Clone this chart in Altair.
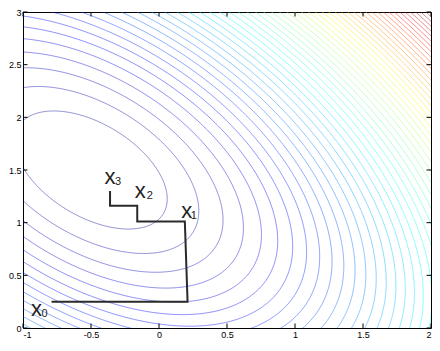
import numpy as np
import pandas as pd
import altair as alt

alt.data_transformers.disable_max_rows()

# ---- values ----
x_range = [-1, 2]
y_range = [0, 3]
x_ticks = [-1, -0.5, 0, 0.5, 1, 1.5, 2]
y_ticks = [0, 0.5, 1, 1.5, 2, 2.5, 3]

# quadratic bowl f = dx^2 + 2*c*dx*dy + dy^2 (centre and coupling read from the ellipses)
center_x = -0.5
center_y = 1.5
coupling = 0.49
n_levels = 50

# coordinate-descent path
path_x = [-0.79, 0.21, 0.19, -0.16, -0.16, -0.36, -0.36]
path_y = [0.25, 0.25, 1.01, 1.01, 1.16, 1.16, 1.30]
label_index = [0, 2, 4, 6]
label_sub = ["0", "1", "2", "3"]

jet_stops = [0, 0.125, 0.375, 0.625, 0.875, 1]
jet_colors = ["#000080", "#0000ff", "#00ffff", "#ffff00", "#ff0000", "#800000"]

W, H = 408, 316

# ---- contour lines (ellipses of the quadratic) ----
def f(x, y):
    dx, dy = x - center_x, y - center_y
    return dx * dx + 2 * coupling * dx * dy + dy * dy

zmax = f(x_range[1], y_range[1])
zmin = 0.0
levels = [zmin + (zmax - zmin) * k / (n_levels + 1) for k in range(1, n_levels + 1)]

t = np.linspace(0, 2 * np.pi, 1400)
rows = []
seg = 0
m = 0.06
for L in levels:
    a1 = np.sqrt(L / (1 + coupling))
    a2 = np.sqrt(L / (1 - coupling))
    xs = center_x + (a1 * np.cos(t) + a2 * np.sin(t)) / np.sqrt(2)
    ys = center_y + (a1 * np.cos(t) - a2 * np.sin(t)) / np.sqrt(2)
    inside = (xs > x_range[0] - m) & (xs < x_range[1] + m) & (ys > y_range[0] - m) & (ys < y_range[1] + m)
    prev = False
    order = 0
    for xi, yi, ins in zip(xs, ys, inside):
        if ins:
            if not prev:
                seg += 1
            rows.append((round(float(xi), 4), round(float(yi), 4), L, seg, order))
            order += 1
        prev = ins
contours = pd.DataFrame(rows, columns=["x", "y", "z", "seg", "o"])

xscale = alt.Scale(domain=x_range, nice=False, zero=False)
yscale = alt.Scale(domain=y_range, nice=False, zero=False)
label_expr = "'' + datum.value"

lines = alt.Chart(contours).mark_line(clip=True, strokeWidth=0.5, strokeOpacity=0.9).encode(
    x=alt.X("x:Q", scale=xscale, axis=alt.Axis(values=x_ticks, labelExpr=label_expr, title=None, labelPadding=2)),
    y=alt.Y("y:Q", scale=yscale, axis=alt.Axis(values=y_ticks, labelExpr=label_expr, title=None, labelPadding=2)),
    color=alt.Color("z:Q", scale=alt.Scale(domain=[zmin + s * (zmax - zmin) for s in jet_stops],
                                           range=jet_colors, interpolate="rgb"), legend=None),
    detail="seg:N",
    order="o:Q",
)

path_df = pd.DataFrame({"x": path_x, "y": path_y, "i": list(range(len(path_x)))})
path = alt.Chart(path_df).mark_line(color="#2a2a2a", strokeWidth=2).encode(
    x=alt.X("x:Q", scale=xscale), y=alt.Y("y:Q", scale=yscale), order="i:Q"
)

lab_df = pd.DataFrame({
    "x": [path_x[i] for i in label_index],
    "y": [path_y[i] for i in label_index],
    "sub": label_sub,
})
# (dx, dy) offsets of the letter and of the subscript for each label
offsets = {
    "0": ((-15, 14), (-7, 15)),
    "1": ((2, -4), (9, -3)),
    "2": ((3, -8), (12.5, -7)),
    "3": ((0, -7), (8, -6)),
}
texts = []
for s in label_sub:
    (ldx, ldy), (sdx, sdy) = offsets[s]
    base = alt.Chart(lab_df).transform_filter(alt.datum.sub == s)
    texts.append(base.mark_text(text="x", fontSize=22, font="Liberation Sans", color="#222222",
                                align="center", baseline="alphabetic", dx=ldx, dy=ldy).encode(
        x=alt.X("x:Q", scale=xscale), y=alt.Y("y:Q", scale=yscale)))
    texts.append(base.mark_text(fontSize=11, font="Liberation Sans", color="#222222",
                                align="center", baseline="alphabetic", dx=sdx, dy=sdy).encode(
        x=alt.X("x:Q", scale=xscale), y=alt.Y("y:Q", scale=yscale), text="sub:N"))

# inward tick marks on all four sides
tx = pd.DataFrame({"v": x_ticks})
ty = pd.DataFrame({"v": y_ticks})
tl = 4.5
ticks = [
    alt.Chart(tx).mark_rule(color="black", strokeWidth=1).encode(
        x=alt.X("v:Q", scale=xscale), y=alt.value(H), y2=alt.value(H - tl)),
    alt.Chart(tx).mark_rule(color="black", strokeWidth=1).encode(
        x=alt.X("v:Q", scale=xscale), y=alt.value(0), y2=alt.value(tl)),
    alt.Chart(ty).mark_rule(color="black", strokeWidth=1).encode(
        y=alt.Y("v:Q", scale=yscale), x=alt.value(0), x2=alt.value(tl)),
    alt.Chart(ty).mark_rule(color="black", strokeWidth=1).encode(
        y=alt.Y("v:Q", scale=yscale), x=alt.value(W), x2=alt.value(W - tl)),
]

chart = alt.layer(lines, path, *texts, *ticks).properties(
    width=W, height=H,
    autosize=alt.AutoSizeParams(type="none"),
    padding={"left": 15, "top": 4, "right": 1, "bottom": 10},
).configure_view(stroke="black", strokeWidth=1).configure_axis(
    grid=False, ticks=False, domain=False, labelFont="Liberation Sans",
    labelFontSize=9, labelColor="black",
)

chart.save("out.html", embed_options={"renderer": "svg", "actions": False})
